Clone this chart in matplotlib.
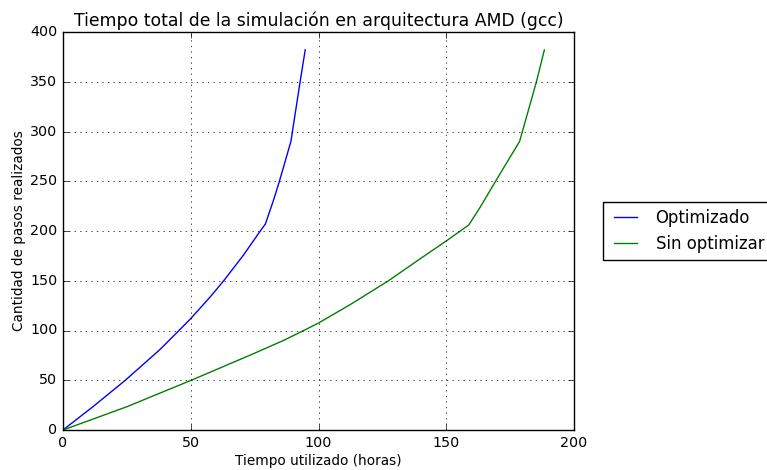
import matplotlib
matplotlib.use("Agg")
import matplotlib.pyplot as plt

plt.style.use("classic")

title = "Tiempo total de la simulación en arquitectura AMD (gcc)"
xlabel = "Tiempo utilizado (horas)"
ylabel = "Cantidad de pasos realizados"
series_names = ["Optimizado", "Sin optimizar"]

opt_x = [0, 12.0, 24.4, 38.0, 45.0, 50.0, 57.7, 62.9, 70.7, 77.2, 79.2,
         82.4, 84.7, 89.2, 92.8, 94.8]
opt_y = [0, 24, 50, 81, 99, 112, 134, 150, 176, 200, 207,
         231, 250, 290, 350, 382]

sin_x = [0, 25.0, 50.2, 73.3, 86.3, 94.2, 100.0, 112.4, 127.4, 138.5, 150.0,
         155.5, 158.8, 163.3, 169.3, 178.7, 185.3, 188.4]
sin_y = [0, 23.4, 50, 75.3, 90, 100, 107.5, 126, 150, 169.8, 190,
         200, 206, 224, 250, 290, 350, 382]

fig = plt.figure(figsize=(7.67, 4.7), dpi=100, facecolor="white")
ax = fig.add_axes([63 / 767, 40 / 470, 511 / 767, 398 / 470])

ax.plot(opt_x, opt_y, color="b", linewidth=1.0, label=series_names[0])
ax.plot(sin_x, sin_y, color="g", linewidth=1.0, label=series_names[1])

ax.set_xlim(0, 200)
ax.set_ylim(0, 400)
ax.set_xticks([0, 50, 100, 150, 200])
ax.set_yticks(range(0, 401, 50))
ax.grid(True, color="k", linestyle=":", linewidth=0.5)
ax.tick_params(labelsize=10.3)

ax.set_title(title, fontsize=12.4, pad=4)
ax.set_xlabel(xlabel, fontsize=9.8, labelpad=3)
ax.set_ylabel(ylabel, fontsize=9.8, labelpad=3)

ax.legend(loc="center left", bbox_to_anchor=(1.04, 0.5), fontsize=11.9)

fig.savefig("out.png", dpi=100, facecolor="white")
